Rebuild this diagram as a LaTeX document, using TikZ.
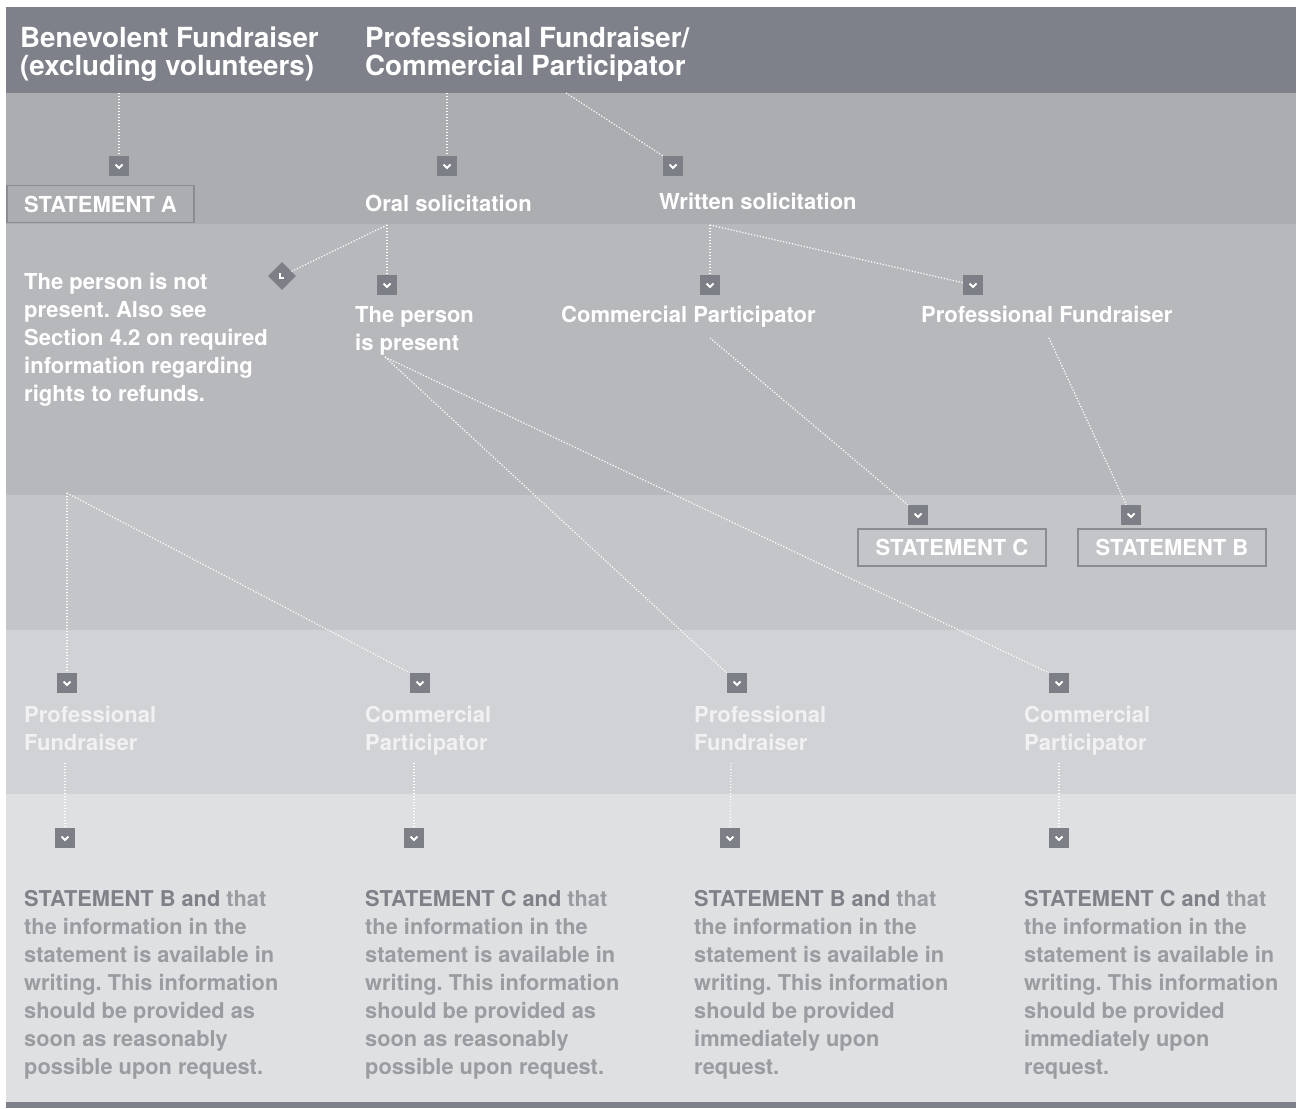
\documentclass[tikz,border=0pt]{standalone}
\usepackage{fontspec}
\setmainfont{TeX Gyre Heros}
\frenchspacing
\usetikzlibrary{calc,shapes.geometric}
\definecolor{hdr}{HTML}{7F818A}
\definecolor{bandb}{HTML}{ACADB1}
\definecolor{bandc}{HTML}{B7B8BC}
\definecolor{bandd}{HTML}{C4C5C8}
\definecolor{bande}{HTML}{D1D2D5}
\definecolor{bandf}{HTML}{DFE0E2}
\definecolor{chevc}{HTML}{7D7F87}
\definecolor{boxedge}{HTML}{8B8C91}
\definecolor{darkt}{HTML}{808188}
\definecolor{lightt}{HTML}{9B9CA1}
\definecolor{palet}{HTML}{F1F1F3}
\begin{document}
% multi-line nodes are placed by the baseline of their last line
\begin{tikzpicture}[x=1pt,y=-1pt,
  hd/.style={anchor=base west, inner sep=0, align=left, text=white,
    font=\bfseries\fontsize{27.7}{28}\selectfont\frenchspacing},
  txt/.style={anchor=base west, inner sep=0, align=left, text=white,
    font=\bfseries\fontsize{22}{28}\selectfont\frenchspacing},
  pale/.style={txt, text=palet},
  btxt/.style={txt, text=lightt, font=\bfseries\fontsize{21.8}{28}\selectfont\frenchspacing},
  stmt/.style={draw=boxedge, line width=1.5, minimum height=37, inner sep=0,
    text=white, font=\bfseries\fontsize{22}{28}\selectfont},
  chev/.style={minimum size=20, inner sep=0, fill=chevc,
    path picture={\draw[white, line width=2]
      ($(path picture bounding box.center)+(-3.5,-1.5)$) -- ++(3.5,3.5) -- ++(3.5,-3.5);}},
  dia/.style={diamond, minimum width=28, minimum height=28, inner sep=0, fill=chevc,
    path picture={\draw[white, line width=2]
      ($(path picture bounding box.center)+(-2.5,-3)$) -- ++(0,4.5) -- ++(4.5,0);}},
  dot/.style={draw=white, line width=1.2, dash pattern=on 1.2pt off 1.8pt}]

\useasboundingbox (0,0) rectangle (1297,1108);
\fill[white] (0,0) rectangle (1297,1108);

% horizontal bands
\fill[hdr]   (6,7)    rectangle (1296,93);
\fill[bandb] (6,93)   rectangle (1296,224);
\fill[bandc] (6,224)  rectangle (1296,495);
\fill[bandd] (6,495)  rectangle (1296,630);
\fill[bande] (6,630)  rectangle (1296,794);
\fill[bandf] (6,794)  rectangle (1296,1102);
\fill[hdr]   (6,1102) rectangle (1296,1108);

% header
\node[hd] (hBen) at (20,75) {Benevolent Fundraiser\\(excluding volunteers)};
\node[hd] (hPro) at (365,75) {Professional Fundraiser/\\Commercial Participator};
\coordinate (fBen)  at (119,93);
\coordinate (fPro1) at (447,93);
\coordinate (fPro2) at (566,93);

% second band
\node[chev] (cA)    at (119,166) {};
\node[chev] (cOral) at (447,166) {};
\node[chev] (cWrit) at (673,166) {};
\node[stmt, minimum width=187] (sA) at (100.5,204) {STATEMENT A};
\node[txt] (oral) at (365,211) {Oral solicitation};
\node[txt] (writ) at (659,209) {Written solicitation};
\coordinate (oralF) at (387,225);
\coordinate (writF) at (710,225);

% third band
\node[dia]  (dNot) at (282,276) {};
\node[chev] (cPres) at (387,285) {};
\node[chev] (cCP)   at (710,285) {};
\node[chev] (cPF)   at (973,285) {};
\node[txt] (notp) at (24,401) {The person is not\\present. Also see\\Section 4.2 on required\\information regarding\\rights to refunds.};
\node[txt] (pres) at (355,350) {The person\\is present};
\node[txt] (wCP) at (561,322) {Commercial Participator};
\node[txt] (wPF) at (921,322) {Professional Fundraiser};
\coordinate (presF) at (385,357);
\coordinate (cpF)   at (710,338);
\coordinate (pfF)   at (1049,338);
\coordinate (notF)  at (67,493);

% fourth band
\node[chev] (cC) at (918,515) {};
\node[chev] (cB) at (1131,515) {};
\node[stmt, minimum width=188] (sC) at (952,547.5) {STATEMENT C};
\node[stmt, minimum width=188] (sB) at (1172,547.5) {STATEMENT B};

% fifth band
\node[chev] (r1) at (67,683) {};
\node[chev] (r2) at (420,683) {};
\node[chev] (r3) at (737,683) {};
\node[chev] (r4) at (1059,683) {};
\node[pale] (l1) at (24,750)   {Professional\\Fundraiser};
\node[pale] (l2) at (365,750)  {Commercial\\Participator};
\node[pale] (l3) at (694,750)  {Professional\\Fundraiser};
\node[pale] (l4) at (1024,750) {Commercial\\Participator};
\coordinate (l1F) at (65,763);
\coordinate (l2F) at (414,763);
\coordinate (l3F) at (731,763);
\coordinate (l4F) at (1059,763);

% sixth band
\node[chev] (b1) at (65,838) {};
\node[chev] (b2) at (414,838) {};
\node[chev] (b3) at (730,838) {};
\node[chev] (b4) at (1059,838) {};
\node[btxt] (t1) at (24,1074) {\textcolor{darkt}{STATEMENT B and} that\\the information in the\\statement is available in\\writing. This information\\should be provided as\\soon as reasonably\\possible upon request.};
\node[btxt] (t2) at (365,1074) {\textcolor{darkt}{STATEMENT C and} that\\the information in the\\statement is available in\\writing. This information\\should be provided as\\soon as reasonably\\possible upon request.};
\node[btxt] (t3) at (694,1074) {\textcolor{darkt}{STATEMENT B and} that\\the information in the\\statement is available in\\writing. This information\\should be provided\\immediately upon\\request.};
\node[btxt] (t4) at (1024,1074) {\textcolor{darkt}{STATEMENT C and} that\\the information in the\\statement is available in\\writing. This information\\should be provided\\immediately upon\\request.};

% connectors
\draw[dot] (fBen) -- (cA);
\draw[dot] (fPro1) -- (cOral);
\draw[dot] (fPro2) -- (cWrit.north west);
\draw[dot] (oralF) -- (dNot);
\draw[dot] (oralF) -- (cPres);
\draw[dot] (writF) -- (cCP);
\draw[dot] (writF) -- (cPF);
\draw[dot] (cpF) -- (cC.north west);
\draw[dot] (pfF) -- (cB);
\draw[dot] (presF) -- (r3.north west);
\draw[dot] (presF) -- (r4.north west);
\draw[dot] (notF) -- (r1);
\draw[dot] (notF) -- (r2.north west);
\draw[dot] (l1F) -- (b1);
\draw[dot] (l2F) -- (b2);
\draw[dot] (l3F) -- (b3);
\draw[dot] (l4F) -- (b4);
\end{tikzpicture}
\end{document}
